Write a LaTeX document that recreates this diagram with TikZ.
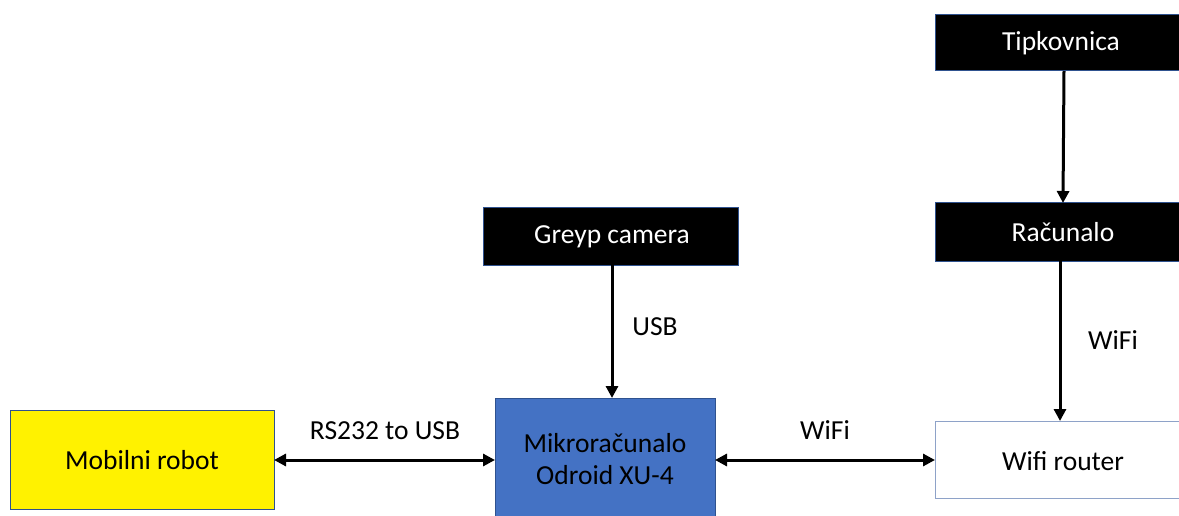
\documentclass[tikz,border=0pt]{standalone}
\usepackage{fontspec}
\setmainfont{Carlito}
\usetikzlibrary{arrows.meta}
\definecolor{boxblue}{HTML}{4472C4}
\definecolor{edgeblue}{HTML}{2F528F}
\definecolor{routeredge}{HTML}{8EA2C8}
\begin{document}
\begin{tikzpicture}[x=1pt,y=-1pt,
  every node/.style={font=\fontsize{27.5}{33}\selectfont},
  blk/.style={draw=edgeblue,line width=1pt,fill=black,text=white,inner sep=0pt},
  conn/.style={line width=3pt,-{Triangle[length=12pt,width=12pt]}},
  bconn/.style={line width=3pt,{Triangle[length=12pt,width=12pt]}-{Triangle[length=12pt,width=12pt]}},
  lbl/.style={inner sep=0pt}]
\useasboundingbox (0,0) rectangle (1179,516);
\fill[white] (0,0) rectangle (1179,516);
% boxes
\draw[draw=edgeblue,line width=1pt,fill=yellow] (10,410) rectangle (274,509);
\node (robot) at (142,460) {Mobilni robot};
\coordinate (robotE) at (274,460);
\draw[draw=edgeblue,line width=1pt,fill=boxblue] (495,398) rectangle (715,530);
\node[align=center,font=\fontsize{27.5}{32}\selectfont] (mikro) at (605,459) {Mikroračunalo\\Odroid XU-4};
\coordinate (mikroW) at (495,460);
\coordinate (mikroE) at (715,460);
\coordinate (mikroN) at (612,398);
\draw[blk] (483,208) rectangle (738,265);
\node[text=white] (greyp) at (612,237) {Greyp camera};
\coordinate (greypS) at (612,265);
\draw[blk] (935,15) rectangle (1190,71);
\node[text=white] (tip) at (1061,43) {Tipkovnica};
\coordinate (tipS) at (1064,71);
\draw[blk] (935,203) rectangle (1190,261);
\node[text=white] (rac) at (1063,232) {Računalo};
\coordinate (racN) at (1063,203);
\coordinate (racS) at (1060,261);
\draw[draw=routeredge,line width=1pt,fill=white] (935,421) rectangle (1190,498);
\node (router) at (1063,461) {Wifi router};
\coordinate (routerW) at (935,460);
\coordinate (routerN) at (1060,421);
% connectors
\draw[bconn] (robotE) -- (mikroW);
\draw[bconn] (mikroE) -- (routerW);
\draw[conn] (greypS) -- (mikroN);
\draw[conn] (tipS) -- (racN);
\draw[conn] (racS) -- (routerN);
% labels
\node[lbl] (l1) at (385,431) {RS232 to USB};
\node[lbl] (l2) at (825,430) {WiFi};
\node[lbl] (l3) at (655,327) {USB};
\node[lbl] (l4) at (1113,340) {WiFi};
\end{tikzpicture}
\end{document}
